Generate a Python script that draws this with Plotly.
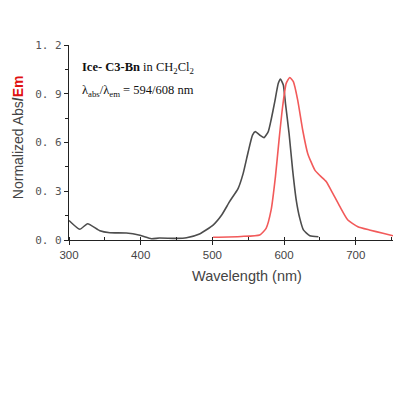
import plotly.graph_objects as go

abs_nm = [300, 315, 326, 343, 357, 380, 399, 415, 426, 450, 464, 482, 501, 513, 524, 536, 543, 550, 556, 560, 566, 572, 578, 582, 587, 592, 595, 599, 602, 607, 612, 617, 622, 627, 636, 648]
abs_val = [0.12, 0.066, 0.10, 0.057, 0.045, 0.043, 0.029, 0.008, 0.012, 0.01, 0.014, 0.037, 0.092, 0.154, 0.236, 0.318, 0.41, 0.543, 0.646, 0.667, 0.646, 0.63, 0.667, 0.74, 0.85, 0.964, 0.99, 0.954, 0.84, 0.656, 0.43, 0.246, 0.133, 0.062, 0.026, 0.02]

em_nm = [501, 540, 566, 575, 582, 588, 593, 598, 603, 608, 613, 619, 626, 633, 643, 650, 659, 668, 678, 689, 703, 719, 738, 752]
em_val = [0.017, 0.022, 0.031, 0.072, 0.185, 0.39, 0.615, 0.82, 0.964, 1.0, 0.974, 0.862, 0.677, 0.533, 0.43, 0.397, 0.359, 0.287, 0.205, 0.123, 0.082, 0.062, 0.041, 0.026]

y_ticks = [0.0, 0.3, 0.6, 0.9, 1.2]
y_ticktext = ["0. 0", "0. 3", "0. 6", "0. 9", "1. 2"]
x_ticks = [300, 400, 500, 600, 700]

fig = go.Figure()
fig.add_trace(go.Scatter(x=abs_nm, y=abs_val, mode="lines", line=dict(color="#4d4d4d", width=1.6, shape="spline", smoothing=0.5), showlegend=False))
fig.add_trace(go.Scatter(x=em_nm, y=em_val, mode="lines", line=dict(color="#f25a5a", width=1.6, shape="spline", smoothing=0.5), showlegend=False))

fig.update_layout(
    width=394, height=394,
    margin=dict(l=69, r=1, t=45, b=154),
    paper_bgcolor="white", plot_bgcolor="white",
    font=dict(family="Liberation Sans, Arial", size=11, color="#333"),
    xaxis=dict(range=[300, 752], tickvals=x_ticks, showgrid=False, zeroline=False,
               showline=True, linecolor="#222", linewidth=1.2, ticks="outside", ticklen=4,
               tickcolor="#222", tickfont=dict(size=11.5, color="#444"),
               minor=dict(ticks="inside", ticklen=3, tickcolor="#222", dtick=50, showgrid=False)),
    yaxis=dict(range=[0, 1.2], tickvals=y_ticks, ticktext=y_ticktext, showgrid=False, zeroline=False,
               showline=True, linecolor="#222", linewidth=1.2, ticks="outside", ticklen=4,
               tickcolor="#222", tickfont=dict(size=11, color="#555", family="DejaVu Sans Mono"),
               minor=dict(ticks="outside", ticklen=3, tickcolor="#222", dtick=0.15, showgrid=False)),
)

fig.add_annotation(x=315, y=1.058, xref="x", yref="y", xanchor="left", yanchor="middle", showarrow=False,
                   text="<b>Ice- C3-Bn</b> in CH<sub>2</sub>Cl<sub>2</sub>",
                   font=dict(family="Liberation Serif, Times New Roman", size=12.5, color="#111"))
fig.add_annotation(x=315, y=0.92, xref="x", yref="y", xanchor="left", yanchor="middle", showarrow=False,
                   text="λ<sub>abs</sub>/λ<sub>em</sub> = 594/608 nm",
                   font=dict(family="Liberation Serif, Times New Roman", size=12.5, color="#111"))
fig.add_annotation(x=549, y=-0.185, xref="x", yref="paper", xanchor="center", yanchor="middle", showarrow=False,
                   text="Wavelength (nm)", font=dict(family="Liberation Sans, Arial", size=14.5, color="#444"))
fig.add_annotation(x=-0.157, y=0.528, xref="paper", yref="paper", xanchor="center", yanchor="middle", showarrow=False,
                   textangle=-90,
                   text="Normalized Abs<b>/</b><b><span style='color:#e01010'>Em</span></b>",
                   font=dict(family="Liberation Sans, Arial", size=14, color="#444"))

fig.write_html("out.html", config={"displayModeBar": False},
               post_script="document.body.style.margin='0';document.body.style.padding='0';")
